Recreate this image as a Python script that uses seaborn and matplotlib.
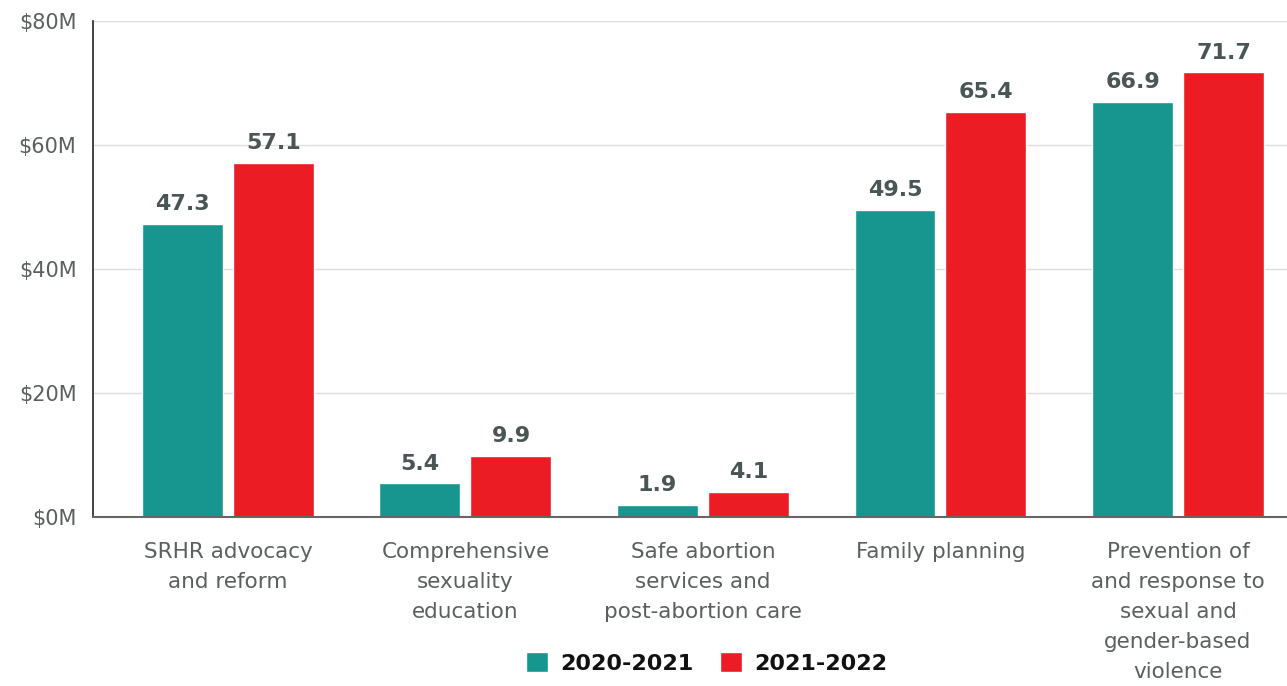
import pandas as pd
import matplotlib.pyplot as plt
import seaborn as sns

# Chart data
categories = [
    "SRHR advocacy\nand reform",
    "Comprehensive\nsexuality\neducation",
    "Safe abortion\nservices and\npost-abortion care",
    "Family planning",
    "Prevention of\nand response to\nsexual and\ngender-based\nviolence",
]
periods = ["2020-2021", "2021-2022"]
values_2020_2021 = [47.3, 5.4, 1.9, 49.5, 66.9]
values_2021_2022 = [57.1, 9.9, 4.1, 65.4, 71.7]
y_ticks = [0, 20, 40, 60, 80]
y_tick_labels = ["$0M", "$20M", "$40M", "$60M", "$80M"]

col_teal = "#16968f"
col_red = "#ec1c24"

plot_data = pd.DataFrame({
    "category": categories * 2,
    "period": [periods[0]] * len(categories) + [periods[1]] * len(categories),
    "value": values_2020_2021 + values_2021_2022,
})

sns.set_style("white")
plt.rcParams["font.family"] = ["DejaVu Sans"]

fig = plt.figure(figsize=(12.87, 6.86), dpi=100)
ax = fig.add_axes([0.0723, 0.2464, 0.9277, 0.723])

sns.barplot(
    data=plot_data, x="category", y="value", hue="period",
    palette=[col_teal, col_red], width=0.766, gap=0.11,
    ax=ax, legend=True, saturation=1,
)

# value labels
for cont in ax.containers:
    ax.bar_label(cont, fmt="%.1f", padding=7, fontsize=16, fontweight="bold", color="#4a5555")

ax.set_xlim(-0.568, 4.459)
ax.set_ylim(0, 80)
ax.set_yticks(y_ticks)
ax.set_yticklabels(y_tick_labels)
ax.set_xlabel("")
ax.set_ylabel("")

# grid behind bars
ax.set_axisbelow(True)
ax.yaxis.grid(True, color="#dddddd", linewidth=1)
ax.xaxis.grid(False)

ax.spines[["top", "right"]].set_visible(False)
ax.spines["left"].set_color("#222222")
ax.spines["left"].set_linewidth(1.2)
ax.spines["bottom"].set_color("#666666")
ax.spines["bottom"].set_linewidth(1.5)

ax.tick_params(axis="y", length=0, pad=12, labelsize=15, labelcolor="#5a5f5f")
ax.tick_params(axis="x", length=0, pad=18, labelsize=15.5, labelcolor="#5a5f5f")
for lbl in ax.get_xticklabels():
    lbl.set_linespacing(1.62)
    lbl.set_verticalalignment("top")

# legend at the bottom center
leg = ax.legend(
    loc="center", bbox_to_anchor=(0.549, 0.0335), bbox_transform=fig.transFigure,
    ncol=2, frameon=False, handlelength=1.0, handleheight=1.0,
    handletextpad=0.55, columnspacing=1.2,
    prop={"size": 16, "weight": "bold"},
)
for t in leg.get_texts():
    t.set_color("#111111")

fig.savefig("out.png", dpi=100)
